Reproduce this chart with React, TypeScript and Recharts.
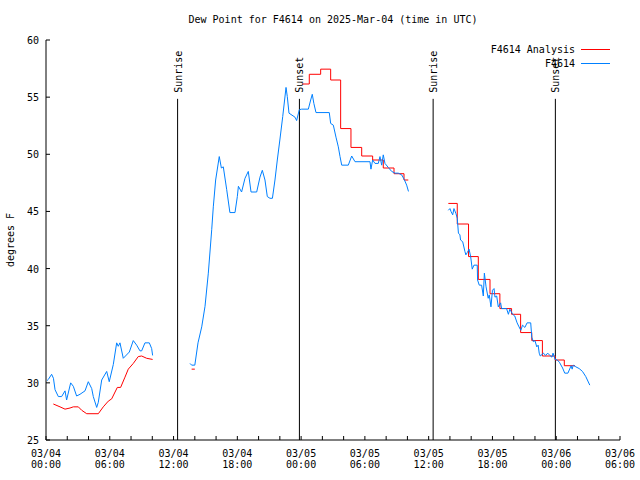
import React from 'react';
import { LineChart, Line, XAxis, YAxis, ReferenceLine } from 'recharts';

const FONT = '"DejaVu Sans Mono", "Liberation Mono", monospace';
const RED = '#ff0000';
const BLUE = '#0080ff';

// x = hours since 03/04 00:00 UTC, y = dew point (F)
const obs1: [number, number][] = [
    [0.1, 30.2], [0.22, 30.3], [0.53, 30.75], [0.7, 30.4], [0.85, 29.4], [1.16, 28.8], [1.47, 28.8],
    [1.79, 29.3], [1.94, 28.5], [2.32, 30.0], [2.57, 29.7], [2.88, 28.85], [3.2, 29.0], [3.67, 29.3],
    [3.98, 30.1], [4.3, 29.5], [4.45, 28.8], [4.77, 27.85], [4.92, 28.3], [5.24, 30.25], [5.71, 31.0],
    [5.95, 30.1], [6.33, 31.6], [6.65, 33.5], [6.8, 33.2], [6.96, 33.5], [7.27, 32.15], [7.84, 32.7],
    [8.21, 33.7], [8.53, 33.3], [8.84, 32.8], [9.0, 32.8], [9.31, 33.5], [9.72, 33.5], [9.94, 33.0],
    [10.03, 32.4],
];

const obs2: [number, number][] = [
    [13.55, 31.7], [13.7, 31.55], [14.0, 31.55], [14.3, 33.5], [14.65, 34.9], [14.96, 36.7], [15.27, 39.6],
    [15.59, 43.4], [15.74, 45.4], [15.96, 47.75], [16.3, 49.8], [16.5, 48.8], [16.68, 48.9], [17.0, 46.9],
    [17.3, 44.9], [17.78, 44.9], [18.0, 46.3], [18.1, 47.2], [18.4, 46.7], [18.72, 47.9], [19.03, 48.5],
    [19.29, 46.7], [19.82, 46.7], [20.13, 48.0], [20.35, 48.6], [20.6, 47.75], [20.82, 46.3], [21.07, 46.15],
    [21.3, 46.15], [21.54, 47.75], [21.76, 49.5], [22.0, 51.25], [22.27, 53.3], [22.58, 55.85], [22.7, 55.05],
    [22.86, 53.6], [23.42, 53.25], [23.58, 52.95], [23.83, 53.9], [24.05, 53.95], [24.68, 53.95], [24.9, 54.75],
    [25.05, 55.25], [25.2, 54.45], [25.4, 53.65], [26.65, 53.65], [26.78, 52.7], [27.03, 52.55], [27.28, 51.5],
    [27.5, 50.65], [27.66, 49.8], [27.82, 49.05], [28.44, 49.05], [28.76, 49.85], [29.07, 49.35], [30.48, 49.35],
    [30.57, 48.7], [30.73, 49.5], [30.95, 49.2], [31.26, 49.2], [31.42, 49.8], [31.58, 49.05], [31.73, 49.95],
    [31.89, 49.2], [32.2, 48.85], [32.52, 48.5], [32.84, 48.35], [33.14, 48.35], [33.46, 48.2], [33.7, 47.8],
    [33.93, 47.3], [34.1, 46.75],
];

const obs3: [number, number][] = [
    [37.85, 45.1], [38.0, 45.25], [38.1, 45.0], [38.26, 44.7], [38.38, 45.25], [38.57, 44.8], [38.69, 44.4],
    [38.8, 43.1], [38.94, 42.95], [39.0, 42.5], [39.2, 42.35], [39.41, 41.5], [39.5, 41.2], [39.63, 41.4],
    [39.8, 41.7], [39.95, 41.05], [40.1, 39.95], [40.26, 40.3], [40.57, 40.3], [40.6, 39.0], [40.76, 38.55],
    [40.98, 38.55], [41.14, 37.6], [41.24, 39.6], [41.4, 38.4], [41.6, 37.4], [41.7, 37.7], [41.86, 36.65],
    [42.0, 38.1], [42.15, 38.25], [42.24, 37.5], [42.4, 37.6], [42.55, 36.65], [42.77, 37.0], [42.86, 36.5],
    [43.33, 36.5], [43.5, 36.0], [43.64, 36.45], [43.9, 36.0], [44.1, 35.85], [44.32, 35.25], [44.5, 34.9],
    [44.67, 34.6], [44.83, 35.05], [45.05, 34.85], [45.26, 35.25], [45.6, 35.25], [45.7, 34.0], [45.85, 33.6],
    [46.0, 33.7], [46.17, 33.15], [46.3, 33.3], [46.4, 32.6], [46.5, 32.35], [46.8, 32.6], [47.0, 32.4],
    [47.2, 32.6], [47.4, 32.4], [47.6, 32.25], [47.7, 32.6], [47.9, 32.05], [48.1, 32.0], [48.3, 31.8],
    [48.6, 31.3], [48.8, 30.85], [49.1, 30.85], [49.4, 31.5], [49.5, 31.2], [49.6, 31.55], [49.85, 31.4],
    [50.16, 31.25], [50.47, 31.0], [50.78, 30.55], [51.16, 29.8],
];

const anl1: [number, number][] = [
    [0.69, 28.15], [1.32, 27.9], [1.79, 27.7], [2.26, 27.8], [2.57, 27.9], [3.04, 27.9], [3.36, 27.6],
    [3.83, 27.3], [4.92, 27.3], [5.39, 27.9], [5.86, 28.4], [6.18, 28.6], [6.71, 29.6], [7.02, 29.6],
    [7.43, 30.5], [7.74, 31.2], [8.21, 31.7], [8.68, 32.3], [9.0, 32.35], [9.47, 32.15], [10.03, 32.05],
];

const anl2: [number, number][] = [[13.7, 31.2], [14.0, 31.2]];

// hourly analysis steps
const anl3: [number, number][] = [
    [24.15, 56.15], [24.77, 57.0], [25.84, 57.45], [26.78, 56.5], [27.72, 52.25], [28.69, 50.6],
    [29.7, 49.85], [30.73, 49.5], [31.73, 48.8], [32.74, 48.3], [33.68, 47.75], [34.08, 47.75],
];

const anl4: [number, number][] = [
    [37.85, 45.7], [38.69, 43.9], [39.75, 41.05], [40.67, 39.05], [41.77, 37.8], [42.7, 36.5],
    [43.8, 36.0], [44.65, 34.4], [45.7, 33.7], [46.7, 32.35], [47.9, 32.0], [48.76, 31.5], [49.77, 31.5],
];

const sunEvents: [number, string][] = [[12.38, 'Sunrise'], [23.84, 'Sunset'], [36.42, 'Sunrise'], [47.92, 'Sunset']];

const xTicks = Array.from({ length: 28 }, (_, i) => i * 2);
const yTicks = [25, 30, 35, 40, 45, 50, 55, 60];

const toRows = (pts: [number, number][]) => pts.map(([h, v]) => ({ h, v }));

const pad = (n: number) => (n < 10 ? '0' + n : '' + n);

const BottomTick = (props: any) => {
    const { x, y, payload } = props;
    const h = payload.value;
    return (
        <g>
            <line x1={x} y1={y} x2={x} y2={y - 4} stroke="#000" />
            {h % 6 === 0 && (
                <text x={x} y={y + 17} textAnchor="middle" fontSize={10} fontFamily={FONT} fill="#000">
                    <tspan x={x}>{'03/' + pad(4 + Math.floor(h / 24))}</tspan>
                    <tspan x={x} dy={11}>{pad(h % 24) + ':00'}</tspan>
                </text>
            )}
        </g>
    );
};

const TopTick = (props: any) => {
    const { x, y } = props;
    return <line x1={x} y1={y} x2={x} y2={y + 4} stroke="#000" />;
};

const LeftTick = (props: any) => {
    const { x, y, payload } = props;
    return (
        <g>
            <line x1={x} y1={y} x2={x + 4} y2={y} stroke="#000" />
            <text x={x - 7} y={y + 4} textAnchor="end" fontSize={10} fontFamily={FONT} fill="#000">
                {payload.value}
            </text>
        </g>
    );
};

const RightTick = (props: any) => {
    const { x, y } = props;
    return <line x1={x} y1={y} x2={x - 4} y2={y} stroke="#000" />;
};

const sunLabel = (text: string) => (props: any) => {
    const { x, y } = props.viewBox;
    const tx = x + 4;
    const ty = y - 6;
    return (
        <text x={tx} y={ty} transform={`rotate(-90, ${tx}, ${ty})`} fontSize={10} fontFamily={FONT} fill="#000">
            {text}
        </text>
    );
};

const legendItems = [
    { name: 'F4614 Analysis', color: RED },
    { name: 'F4614', color: BLUE },
];

const App = () => {
    return (
        <div style={{ position: 'absolute', left: 0, top: 0, width: 640, height: 480, background: '#fff' }}>
            <div
                style={{
                    position: 'absolute', left: 46, top: 13, width: 574, textAlign: 'center',
                    fontFamily: FONT, fontSize: 10, lineHeight: '14px',
                }}
            >
                Dew Point for F4614 on 2025-Mar-04 (time in UTC)
            </div>
            <LineChart width={640} height={480} margin={{ top: 40, right: 20, bottom: 10, left: 10 }}>
                <XAxis
                    dataKey="h" type="number" domain={[0, 54]} ticks={xTicks} interval={0}
                    height={30} tickSize={0} tickMargin={0} tickLine={false} stroke="#000"
                    tick={<BottomTick />} allowDataOverflow
                />
                <XAxis
                    xAxisId="top" orientation="top" dataKey="h" type="number" domain={[0, 54]} ticks={xTicks}
                    interval={0} height={0} tickSize={0} tickMargin={0} tickLine={false} stroke="#000"
                    tick={<TopTick />}
                />
                <YAxis
                    type="number" domain={[25, 60]} ticks={yTicks} interval={0} width={36}
                    tickSize={0} tickMargin={0} tickLine={false} stroke="#000" tick={<LeftTick />}
                    label={() => {
                        const lx = 14;
                        const ly = 240;
                        return (
                            <text x={lx} y={ly} transform={`rotate(-90, ${lx}, ${ly})`} textAnchor="middle"
                                fontSize={10} fontFamily={FONT} fill="#000">
                                degrees F
                            </text>
                        );
                    }}
                    allowDataOverflow
                />
                <YAxis
                    yAxisId="right" orientation="right" type="number" domain={[25, 60]} ticks={yTicks}
                    interval={0} width={0} tickSize={0} tickMargin={0} tickLine={false} stroke="#000"
                    tick={<RightTick />}
                />
                {sunEvents.map(([h, name], i) => (
                    <ReferenceLine
                        key={i}
                        segment={[{ x: h, y: 54.85 }, { x: h, y: 25 }]}
                        stroke="#000"
                        strokeWidth={1}
                        label={sunLabel(name)}
                    />
                ))}
                {[anl1, anl2].map((d, i) => (
                    <Line key={'a' + i} data={toRows(d)} dataKey="v" type="linear" stroke={RED}
                        strokeWidth={1} dot={false} isAnimationActive={false} />
                ))}
                {[anl3, anl4].map((d, i) => (
                    <Line key={'s' + i} data={toRows(d)} dataKey="v" type="stepAfter" stroke={RED}
                        strokeWidth={1} dot={false} isAnimationActive={false} />
                ))}
                {[obs1, obs2, obs3].map((d, i) => (
                    <Line key={'o' + i} data={toRows(d)} dataKey="v" type="linear" stroke={BLUE}
                        strokeWidth={1} dot={false} isAnimationActive={false} />
                ))}
            </LineChart>
            <svg
                width={180}
                height={30}
                style={{ position: 'absolute', left: 440, top: 42 }}
            >
                {legendItems.map((it, i) => (
                    <g key={it.name}>
                        <text x={135} y={7 + i * 14 + 3.5} textAnchor="end" fontSize={10} fontFamily={FONT} fill="#000">
                            {it.name}
                        </text>
                        <line x1={141} x2={170} y1={7.5 + i * 14} y2={7.5 + i * 14} stroke={it.color} strokeWidth={1} />
                    </g>
                ))}
            </svg>
        </div>
    );
};

export default App;
